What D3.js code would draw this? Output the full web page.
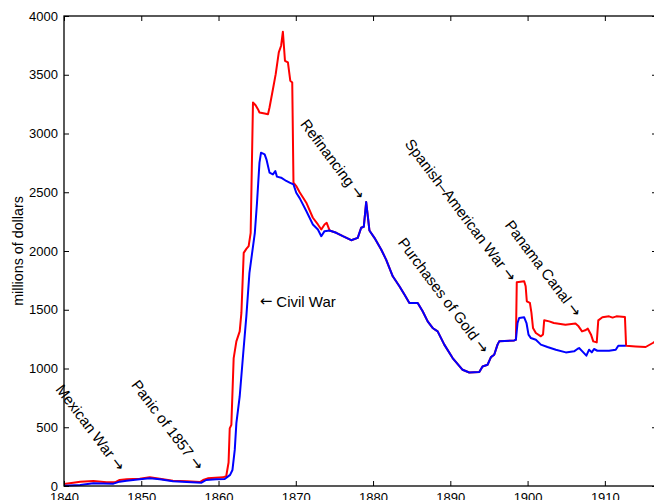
<!DOCTYPE html>
<html>
<head>
<meta charset="utf-8">
<script src="https://cdn.jsdelivr.net/npm/d3@7"></script>
<style>
    body { margin: 0; background: #fff; }
    svg { display: block; font-family: "Liberation Sans", Arial, sans-serif; }
    .arrow { font-family: "DejaVu Sans", sans-serif; }
</style>
</head>
<body>
<script>
// Gross debt (red), millions of dollars
const grossYears = [
    1840.0, 1841.2, 1842.1, 1843.8, 1845.5, 1846.6, 1847.2, 1848.1, 1849.8, 1851.1,
    1852.4, 1854.1, 1855.9, 1857.6, 1858.0, 1858.6, 1860.6, 1861.0, 1861.3, 1861.45,
    1861.66, 1861.96, 1862.31, 1862.74, 1862.96, 1863.26, 1863.6, 1863.9, 1864.16, 1864.46,
    1864.8, 1865.1, 1865.3, 1865.97, 1866.4, 1866.6, 1867.04, 1867.4, 1867.8, 1868.1,
    1868.33, 1868.6, 1868.98, 1869.29, 1869.54, 1869.7, 1870.06, 1870.5, 1871.36, 1872.21,
    1872.86, 1873.3, 1873.72, 1874.0, 1874.37, 1875.23, 1876.09, 1877.17, 1878.02, 1878.46,
    1878.8, 1879.11, 1879.32, 1879.53, 1880.18, 1881.05, 1881.69, 1882.55, 1883.41, 1884.06,
    1884.7, 1885.78, 1886.42, 1887.07, 1887.71, 1888.36, 1889.22, 1890.3, 1891.59, 1892.45,
    1893.75, 1894.17, 1894.82, 1895.26, 1895.68, 1896.11, 1896.33, 1898.27, 1898.49, 1898.6,
    1899.56, 1899.75, 1899.9, 1900.3, 1900.5, 1900.7, 1901.07, 1901.72, 1902.0, 1902.15,
    1902.8, 1903.4, 1904.9, 1906.2, 1906.6, 1907.05, 1907.45, 1907.8, 1908.2, 1908.5,
    1908.95, 1909.15, 1909.68, 1910.54, 1911.0, 1911.5, 1912.6, 1912.75, 1913.99, 1915.28,
    1916.2, 1916.75
];
const grossDebt = [
    17, 28, 37, 43, 31, 31, 51, 57, 62, 74,
    62, 45, 40, 34, 51, 65, 74, 85, 200, 490,
    520, 1089, 1231, 1316, 1473, 1984, 2018, 2041, 2155, 3264,
    3241, 3207, 3179, 3170, 3164, 3221, 3377, 3505, 3690, 3747,
    3866, 3619, 3605, 3448, 3434, 2582, 2553, 2500, 2411, 2283,
    2226, 2183, 2226, 2240, 2175, 2155, 2126, 2092, 2112, 2198,
    2206, 2416, 2297, 2175, 2112, 2013, 1927, 1785, 1700, 1629,
    1558, 1558, 1487, 1401, 1345, 1316, 1203, 1089, 989, 966,
    970, 1017, 1032, 1097, 1117, 1203, 1231, 1239, 1245, 1734,
    1743, 1700, 1572, 1558, 1473, 1345, 1302, 1274, 1290, 1410,
    1401, 1387, 1373, 1382, 1359, 1316, 1325, 1339, 1290, 1231,
    1222, 1410, 1436, 1444, 1433, 1444, 1439, 1194, 1188, 1183,
    1217, 1240
];

// Net debt (blue), millions of dollars
const netYears = [
    1840.0, 1842.1, 1843.8, 1846.4, 1847.2, 1848.1, 1849.8, 1851.1, 1852.4, 1854.1,
    1855.9, 1857.8, 1858.4, 1859.7, 1860.8, 1861.2, 1861.5, 1861.8, 1862.1, 1862.31,
    1862.74, 1863.2, 1863.6, 1864.0, 1864.7, 1864.98, 1865.3, 1865.5, 1865.97, 1866.2,
    1866.6, 1867.04, 1867.35, 1867.56, 1868.1, 1868.77, 1869.2, 1869.7, 1870.06, 1870.5,
    1871.36, 1872.21, 1872.86, 1873.3, 1873.72, 1874.37, 1875.23, 1876.09, 1877.17, 1878.02,
    1878.46, 1878.8, 1879.11, 1879.32, 1879.53, 1880.18, 1881.05, 1881.69, 1882.55, 1883.41,
    1884.06, 1884.7, 1885.78, 1886.42, 1887.07, 1887.71, 1888.36, 1889.22, 1890.3, 1891.59,
    1892.45, 1893.75, 1894.17, 1894.82, 1895.26, 1895.68, 1896.11, 1896.33, 1898.27, 1898.49,
    1898.7, 1898.91, 1899.56, 1899.86, 1900.12, 1900.43, 1901.07, 1901.72, 1902.57, 1903.66,
    1904.95, 1906.02, 1906.45, 1906.67, 1907.09, 1907.61, 1907.96, 1908.31, 1908.6, 1909.03,
    1910.54, 1911.41, 1911.74, 1912.7
];
const netDebt = [
    3, 9, 23, 20, 37, 45, 57, 65, 57, 40,
    34, 28, 51, 57, 60, 80, 95, 136, 307, 535,
    762, 1132, 1444, 1814, 2155, 2411, 2752, 2837, 2823, 2780,
    2667, 2652, 2681, 2633, 2624, 2596, 2582, 2567, 2496, 2450,
    2340, 2226, 2183, 2126, 2169, 2175, 2155, 2126, 2092, 2112,
    2198, 2206, 2416, 2297, 2175, 2112, 2013, 1927, 1785, 1700,
    1629, 1558, 1558, 1487, 1401, 1345, 1316, 1203, 1089, 989,
    966, 970, 1017, 1032, 1097, 1117, 1203, 1231, 1239, 1245,
    1387, 1430, 1436, 1387, 1288, 1259, 1245, 1203, 1183, 1160,
    1137, 1146, 1166, 1174, 1146, 1109, 1160, 1137, 1166, 1151,
    1151, 1160, 1194, 1194
];

const xTicks = [1840, 1850, 1860, 1870, 1880, 1890, 1900, 1910];
const yTicks = [0, 500, 1000, 1500, 2000, 2500, 3000, 3500, 4000];

// Events: label, year and value the arrow points at
const eventLabels = ["Mexican War", "Panic of 1857", "Refinancing", "Purchases of Gold",
    "Spanish\u2013American War", "Panama Canal"];
const eventYears = [1847.49, 1857.66, 1878.54, 1894.61, 1898.14, 1906.58];
const eventValues = [145, 151, 2454, 1145, 1757, 1458];

const W = 654, H = 500;
const box = { left: 64, right: 657, top: 16, bottom: 486 };

const svg = d3.select("body").append("svg")
    .attr("width", W)
    .attr("height", H);

const x = d3.scaleLinear().domain([1840, 1916.75]).range([box.left, box.right]);
const y = d3.scaleLinear().domain([0, 4000]).range([box.bottom, box.top]);

const line = d3.line()
    .x(d => x(d[0]))
    .y(d => y(d[1]));

// Data lines: red first, blue on top
svg.append("path")
    .datum(d3.zip(grossYears, grossDebt))
    .attr("d", line)
    .attr("fill", "none")
    .attr("stroke", "#ff0000")
    .attr("stroke-width", 2)
    .attr("stroke-linejoin", "round");

svg.append("path")
    .datum(d3.zip(netYears, netDebt))
    .attr("d", line)
    .attr("fill", "none")
    .attr("stroke", "#0000ff")
    .attr("stroke-width", 2)
    .attr("stroke-linejoin", "round");

// Axes with inward ticks, matlab style
function styleAxis(g) {
    g.select(".domain").remove();
    g.selectAll(".tick line").attr("stroke", "#000").attr("stroke-width", 1);
    g.selectAll(".tick text").attr("fill", "#000").style("font-size", "13px");
}

svg.append("g")
    .attr("transform", `translate(0,${box.bottom})`)
    .call(d3.axisBottom(x).tickValues(xTicks).tickSize(-5).tickPadding(7).tickFormat(d3.format("d")))
    .call(styleAxis);

svg.append("g")
    .attr("transform", `translate(0,${box.top})`)
    .call(d3.axisTop(x).tickValues(xTicks).tickSize(-5).tickFormat(""))
    .call(styleAxis);

svg.append("g")
    .attr("transform", `translate(${box.left},0)`)
    .call(d3.axisLeft(y).tickValues(yTicks).tickSize(-5).tickPadding(6).tickFormat(d3.format("d")))
    .call(styleAxis);

svg.append("g")
    .attr("transform", `translate(${box.right},0)`)
    .call(d3.axisRight(y).tickValues(yTicks).tickSize(-5).tickFormat(""))
    .call(styleAxis);

svg.append("rect")
    .attr("x", box.left)
    .attr("y", box.top)
    .attr("width", box.right - box.left)
    .attr("height", box.bottom - box.top)
    .attr("fill", "none")
    .attr("stroke", "#000")
    .attr("stroke-width", 1.3);

// y label
svg.append("text")
    .attr("transform", `translate(18,${(box.top + box.bottom) / 2}) rotate(-90)`)
    .attr("text-anchor", "middle")
    .attr("dominant-baseline", "central")
    .style("font-size", "14.3px")
    .text("millions of dollars");

// Rotated event annotations ending in an arrow
eventLabels.forEach((label, i) => {
    const px = x(eventYears[i]);
    const py = y(eventValues[i]);
    const t = svg.append("text")
        .attr("transform", `translate(${px},${py}) rotate(53)`)
        .attr("text-anchor", "end")
        .attr("dominant-baseline", "central")
        .style("font-size", "15px")
        .text(label + " ");
    t.append("tspan").attr("class", "arrow").text("\u2192");
});

// Civil War label, horizontal
const civil = svg.append("text")
    .attr("x", x(1865.32))
    .attr("y", y(1578))
    .attr("dominant-baseline", "central")
    .style("font-size", "15px");
civil.append("tspan").attr("class", "arrow").text("\u2190");
civil.append("tspan").text(" Civil War");
</script>
</body>
</html>
